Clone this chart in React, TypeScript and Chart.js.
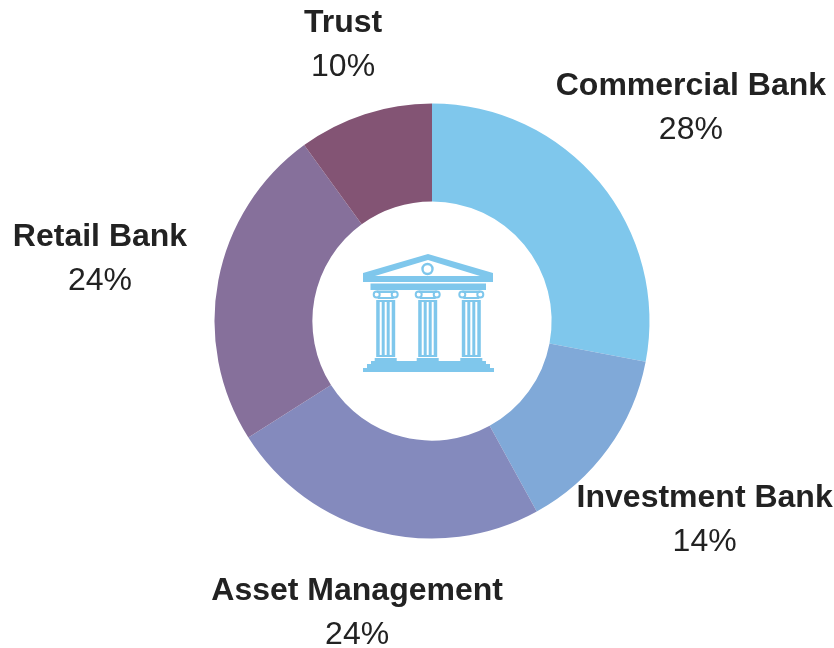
import React, { useEffect, useRef } from "react";
import { Chart, registerables } from "chart.js";

Chart.register(...registerables);

const categories = ["Commercial Bank", "Investment Bank", "Asset Management", "Retail Bank", "Trust"];
const shares = [28, 14, 24, 24, 10];
const colors = ["#7FC7EC", "#80A9D8", "#848ABD", "#86709B", "#835474"];
const labelDistances = [336, 337, 301, 338, 291];
const labelNudgesX = [0, 0, 0, 0, 1];
const labelNudgesY = [0, 0, 0, 1, 0];

const ICON = "#7FC7EC";

function drawColumn(ctx: CanvasRenderingContext2D, cx: number) {
  ctx.fillStyle = ICON;
  // capital
  ctx.fillRect(cx - 9, 290.5, 18, 2.5);
  ctx.fillRect(cx - 8, 297, 16, 2);
  ctx.strokeStyle = ICON;
  ctx.lineWidth = 2;
  for (const s of [-1, 1]) {
    ctx.beginPath();
    ctx.arc(cx + s * 9, 294.5, 3, 0, Math.PI * 2);
    ctx.stroke();
  }
  // shaft with flutes
  ctx.fillRect(cx - 9.5, 300, 19, 56);
  ctx.fillStyle = "#FFFFFF";
  for (const dx of [-6, -1, 4]) ctx.fillRect(cx + dx, 302, 2, 53);
  ctx.fillStyle = ICON;
  ctx.fillRect(cx - 9.5, 356, 19, 1);
  ctx.fillRect(cx - 11, 358, 22, 4);
}

const centerPlugin = {
  id: "centerDecor",
  afterDatasetsDraw(chart: any) {
    const { ctx } = chart;
    const meta = chart.getDatasetMeta(0);
    const { x: ox, y: oy } = meta.data[0];
    ctx.save();

    // labels
    ctx.textAlign = "center";
    ctx.textBaseline = "middle";
    ctx.fillStyle = "#222222";
    meta.data.forEach((arc: any, i: number) => {
      const mid = (arc.startAngle + arc.endAngle) / 2;
      const x = ox + Math.cos(mid) * labelDistances[i] + labelNudgesX[i];
      const y = oy + Math.sin(mid) * labelDistances[i] + labelNudgesY[i];
      ctx.font = "bold 32px 'Liberation Sans'";
      ctx.fillText(categories[i], x, y - 21);
      ctx.font = "32px 'Liberation Sans'";
      ctx.fillText(shares[i] + "%", x, y + 23);
    });

    // temple icon, placed relative to the ring centre
    ctx.translate(ox - 432, oy - 321);
    ctx.fillStyle = ICON;
    ctx.beginPath();
    ctx.moveTo(428, 254);
    ctx.lineTo(493, 273);
    ctx.lineTo(493, 282);
    ctx.lineTo(363, 282);
    ctx.lineTo(363, 273);
    ctx.closePath();
    ctx.fill();
    ctx.fillStyle = "#FFFFFF";
    ctx.beginPath();
    ctx.moveTo(428, 260);
    ctx.lineTo(480, 276);
    ctx.lineTo(375, 276);
    ctx.closePath();
    ctx.fill();
    ctx.strokeStyle = ICON;
    ctx.lineWidth = 2.4;
    ctx.beginPath();
    ctx.arc(427.5, 269, 5, 0, Math.PI * 2);
    ctx.stroke();
    ctx.fillStyle = ICON;
    ctx.fillRect(370.5, 283.5, 115.5, 6.5);
    [385.7, 427.7, 471.3].forEach((cx) => drawColumn(ctx, cx));
    ctx.fillStyle = ICON;
    ctx.fillRect(371, 361, 115, 3.5);
    ctx.fillRect(367, 364, 123, 4);
    ctx.fillRect(363, 368, 131, 4);
    ctx.restore();
  },
};

export default function App() {
  const ref = useRef<HTMLCanvasElement>(null);
  useEffect(() => {
    document.body.style.margin = "0";
    const chart = new Chart(ref.current!, {
      type: "doughnut",
      data: {
        labels: categories,
        datasets: [{ data: shares, backgroundColor: colors, borderWidth: 0 }],
      },
      options: {
        responsive: false,
        animation: false,
        cutout: "55%",
        layout: { padding: { left: 214.5, right: 184.5, top: 103.5, bottom: 109.5 } },
        plugins: { legend: { display: false }, tooltip: { enabled: false } },
      },
      plugins: [centerPlugin],
    });
    return () => chart.destroy();
  }, []);
  return <canvas ref={ref} width={834} height={648} style={{ display: "block" }} />;
}
